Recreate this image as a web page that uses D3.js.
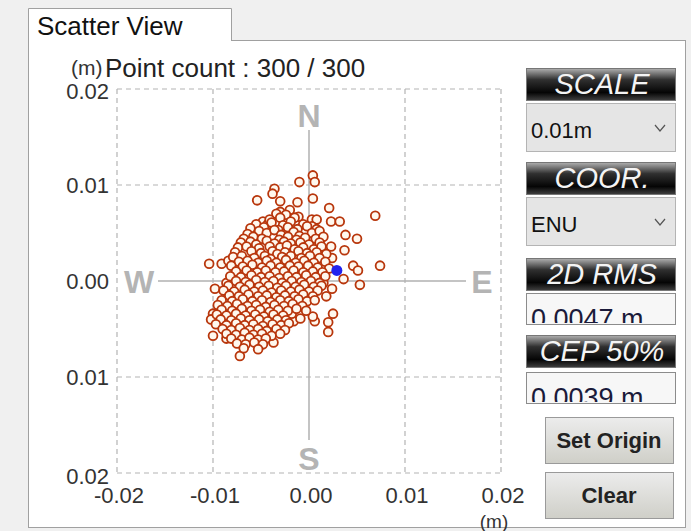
<!DOCTYPE html>
<meta charset="utf-8">
<script src="https://d3js.org/d3.v7.min.js"></script>
<style>
  body { margin: 0; background: #f0f0f0; }
  text { font-family: Arial, "Liberation Sans", sans-serif; }
</style>
<div id="my_dataviz"></div>
<script>
// tick values (metres) and the labels as they appear on screen
var xTicks = [-0.02, -0.01, 0, 0.01, 0.02];
var xTickLabels = ["-0.02", "-0.01", "0.00", "0.01", "0.02"];
var yTicks = [0.02, 0.01, 0, -0.01, -0.02];
var yTickLabels = ["0.02", "0.01", "0.00", "0.01", "0.02"];

// scatter points, east / north in millimetres
var outerPts = [
  [0.4,11.0],[0.6,10.3],[-1.0,10.3],[-3.6,9.6],[-3.8,9.1],[-5.4,8.4],[-3.0,8.3],[-1.2,8.2],
  [0.4,8.6],[-3.0,7.2],[-2.0,7.4],[2.1,7.6],[6.9,6.8],[-1.1,6.7],[2.3,6.2],[3.2,6.2],
  [-4.8,6.2],[-5.1,5.3],[-4.3,5.9],[-2.2,6.2],[0.3,6.4],[0.8,6.4],[3.8,4.8],[5.0,4.4],
  [3.7,3.2],[2.3,3.6],[-10.4,1.8],[-9.1,1.8],[-8.4,2.1],[7.4,1.6],[4.6,1.6],[5.1,1.1],
  [5.3,-0.4],[3.6,0.2],[2.4,2.4],[1.5,2.5],[-9.8,-0.8],[-8.6,-0.2],[-10.0,-3.4],[-10.2,-4.0],
  [-10.0,-5.7],[-8.6,-6.0],[-7.2,-7.8],[-4.4,-6.0],[-3.7,-6.4],[2.0,-5.3],[2.0,-4.3],[2.5,-3.4],
  [0.6,-4.2],[0.4,-3.7],[-1.6,-4.2],[-0.9,-3.9],[-1.8,-3.4],[2.4,-0.8],[1.5,-0.2],[1.8,-1.6]
];
var corePts = [
  [-3.4,7.0],[-2.4,6.9],
  [-4.1,6.4],[-3.0,6.6],[-1.5,6.6],
  [-5.5,5.9],[-3.9,6.1],[-2.7,5.8],[-1.9,6.2],[-0.6,5.9],[0.3,5.7],
  [-6.1,5.5],[-4.7,5.6],[-3.2,5.3],[-2.2,5.6],[-1.2,5.4],[-0.2,5.7],[0.8,5.4],
  [-6.4,4.9],[-5.2,5.2],[-4.4,5.0],[-3.6,5.3],[-2.9,4.8],[-1.6,5.1],[-1.0,4.7],[0.3,5.0],[1.1,5.2],
  [-6.8,4.4],[-5.8,4.6],[-4.9,4.4],[-3.1,4.3],[-2.2,4.6],[-1.3,4.3],[-0.4,4.5],[0.7,4.4],[1.5,4.6],
  [-7.1,4.0],[-6.1,4.1],[-5.5,3.8],[-4.4,4.2],[-3.6,3.9],[-2.6,4.1],[-1.9,3.9],[-0.9,4.0],[0.0,3.8],[1.1,4.0],
  [-7.4,3.5],[-6.5,3.6],[-5.2,3.4],[-4.1,3.6],[-3.0,3.5],[-2.3,3.7],[-1.5,3.3],[-0.6,3.5],[0.5,3.3],[1.3,3.6],
  [-7.7,3.0],[-6.0,3.1],[-5.0,2.9],[-3.8,3.1],[-3.3,2.8],[-2.5,3.0],[-1.1,3.1],[-0.2,2.9],[0.8,3.0],[1.8,2.8],
  [-7.9,2.5],[-7.0,2.6],[-5.7,2.4],[-4.6,2.6],[-4.0,2.3],[-2.8,2.5],[-1.9,2.6],[-0.8,2.4],[0.1,2.6],[1.1,2.4],
  [-7.3,2.0],[-6.4,2.1],[-5.3,1.9],[-4.4,2.1],[-3.4,1.9],[-2.4,2.2],[-1.4,1.9],[-0.5,2.1],[0.5,1.9],[1.7,2.0],
  [-8.1,1.6],[-6.9,1.5],[-5.9,1.7],[-4.9,1.4],[-4.0,1.6],[-3.0,1.4],[-2.0,1.6],[-1.1,1.5],[-0.1,1.6],[0.9,1.4],[2.1,1.3],
  [-7.6,1.0],[-6.5,1.1],[-5.4,0.9],[-4.5,1.1],[-3.5,0.9],[-2.6,1.0],[-1.6,1.1],[-0.6,0.9],[0.4,1.0],[1.4,0.9],
  [-8.2,0.5],[-7.1,0.4],[-6.0,0.6],[-5.0,0.4],[-4.1,0.5],[-3.1,0.3],[-2.2,0.5],[-1.3,0.4],[-0.3,0.6],[0.7,0.4],[1.7,0.5],
  [-7.6,0.0],[-6.6,-0.1],[-5.5,0.1],[-4.6,-0.1],[-3.7,0.0],[-2.8,-0.2],[-1.8,0.0],[-0.8,-0.1],[0.2,0.0],[1.1,-0.2],
  [-8.4,-0.5],[-7.2,-0.6],[-6.2,-0.4],[-5.2,-0.6],[-4.2,-0.5],[-3.3,-0.7],[-2.4,-0.5],[-1.4,-0.6],[-0.5,-0.4],[0.5,-0.6],[1.3,-0.5],
  [-8.9,-1.0],[-7.8,-1.1],[-6.7,-0.9],[-5.7,-1.1],[-4.8,-1.0],[-3.9,-1.2],[-2.9,-1.0],[-1.9,-1.1],[-1.0,-0.9],[0.0,-1.1],[0.9,-1.0],
  [-8.3,-1.5],[-7.3,-1.6],[-6.3,-1.4],[-5.3,-1.6],[-4.4,-1.5],[-3.4,-1.7],[-2.5,-1.5],[-1.5,-1.6],[-0.6,-1.4],[0.4,-1.6],
  [-9.1,-2.0],[-8.0,-2.1],[-6.9,-1.9],[-5.9,-2.1],[-4.9,-2.0],[-4.0,-2.2],[-3.0,-2.0],[-2.1,-2.1],[-1.1,-1.9],[-0.2,-2.1],[0.6,-2.0],
  [-9.5,-2.5],[-8.5,-2.6],[-7.5,-2.4],[-6.4,-2.6],[-5.5,-2.5],[-4.5,-2.7],[-3.6,-2.5],[-2.6,-2.6],[-1.7,-2.4],[-0.7,-2.6],
  [-9.1,-3.0],[-8.0,-3.1],[-7.0,-2.9],[-6.0,-3.1],[-5.1,-3.0],[-4.1,-3.2],[-3.2,-3.0],[-2.2,-3.1],[-1.3,-2.9],[-0.3,-3.1],
  [-9.6,-3.5],[-8.6,-3.6],[-7.6,-3.4],[-6.6,-3.6],[-5.6,-3.5],[-4.7,-3.7],[-3.7,-3.5],[-2.7,-3.6],
  [-9.2,-4.0],[-8.1,-4.1],[-7.1,-3.9],[-6.2,-4.1],[-5.2,-4.0],[-4.3,-4.2],[-3.3,-4.0],[-2.4,-4.1],
  [-9.7,-4.5],[-8.6,-4.6],[-7.6,-4.4],[-6.7,-4.6],[-5.8,-4.5],[-4.8,-4.7],[-3.8,-4.5],[-2.9,-4.6],[-2.1,-4.4],
  [-9.0,-5.0],[-8.1,-5.1],[-7.2,-4.9],[-6.2,-5.1],[-5.3,-5.0],[-4.4,-5.2],[-3.4,-5.0],[-2.5,-5.1],
  [-8.6,-5.5],[-7.6,-5.6],[-6.7,-5.4],[-5.8,-5.6],[-4.9,-5.5],[-3.9,-5.7],[-3.0,-5.5],
  [-8.1,-6.0],[-7.0,-6.1],[-6.2,-5.9],[-5.3,-6.1],[-4.5,-6.0],
  [-7.5,-6.5],[-6.6,-6.6],[-5.7,-6.4],[-4.8,-6.6],
  [-6.8,-7.0],[-5.3,-7.1]
];
// current position (blue dot)
var bluePt = [2.9, 1.1];

// right hand panel contents
var headers = ["SCALE", "COOR.", "2D RMS", "CEP 50%"];
var headerY = [68, 162, 258, 335];
var combos = [{label: "0.01m", y: 103}, {label: "ENU", y: 197}];
var values = [{label: "0.0047 m", y: 293}, {label: "0.0039 m", y: 372}];
var buttons = [{label: "Set Origin", y: 417}, {label: "Clear", y: 472}];

var width = 691, height = 531;

var svg = d3.select("#my_dataviz")
  .append("svg")
    .attr("width", width)
    .attr("height", height);

var defs = svg.append("defs");
var hg = defs.append("linearGradient").attr("id", "hdr").attr("x1", 0).attr("y1", 0).attr("x2", 0).attr("y2", 1);
hg.append("stop").attr("offset", "0%").attr("stop-color", "#b0b0b0");
hg.append("stop").attr("offset", "35%").attr("stop-color", "#303030");
hg.append("stop").attr("offset", "75%").attr("stop-color", "#050505");
hg.append("stop").attr("offset", "100%").attr("stop-color", "#404040");
var bg = defs.append("linearGradient").attr("id", "btn").attr("x1", 0).attr("y1", 0).attr("x2", 0).attr("y2", 1);
bg.append("stop").attr("offset", "0%").attr("stop-color", "#ececec");
bg.append("stop").attr("offset", "100%").attr("stop-color", "#cfcfc8");

// window background + tab panel
svg.append("rect").attr("width", width).attr("height", height).attr("fill", "#f0f0f0");
svg.append("rect")
  .attr("x", 28.5).attr("y", 40.5).attr("width", 657).attr("height", 487)
  .attr("fill", "#ffffff").attr("stroke", "#a0a0a0");
svg.append("path")
  .attr("d", "M28.5,41 L28.5,8.5 L231.5,8.5 L231.5,41")
  .attr("fill", "#ffffff").attr("stroke", "#a0a0a0");
svg.append("rect").attr("x", 29).attr("y", 38).attr("width", 202).attr("height", 4).attr("fill", "#ffffff");
svg.append("text").attr("x", 37).attr("y", 35).attr("font-size", 26).attr("fill", "#111").text("Scatter View");

// scales
var x = d3.scaleLinear().domain([-0.02, 0.02]).range([117, 501]);
var y = d3.scaleLinear().domain([-0.02, 0.02]).range([473, 89]);

// dashed grid
var grid = svg.append("g").attr("stroke", "#b4b4b4").attr("stroke-width", 1.2).attr("stroke-dasharray", "5,4");
grid.selectAll("line.v").data(xTicks.filter(function(d){ return d !== 0; }))
  .enter().append("line")
    .attr("x1", function(d){ return x(d); }).attr("x2", function(d){ return x(d); })
    .attr("y1", y(0.02)).attr("y2", y(-0.02));
grid.selectAll("line.h").data(yTicks.filter(function(d){ return d !== 0; }))
  .enter().append("line")
    .attr("y1", function(d){ return y(d); }).attr("y2", function(d){ return y(d); })
    .attr("x1", x(-0.02)).attr("x2", x(0.02));

// compass cross
svg.append("line").attr("x1", x(0)).attr("x2", x(0)).attr("y1", 130).attr("y2", 440)
  .attr("stroke", "#b0b0b0").attr("stroke-width", 1.5);
svg.append("line").attr("x1", 158).attr("x2", 466).attr("y1", y(0)).attr("y2", y(0))
  .attr("stroke", "#b0b0b0").attr("stroke-width", 1.5);
var compass = [
  {t: "N", x: x(0), y: 127}, {t: "S", x: x(0), y: 470},
  {t: "W", x: 139, y: y(0) + 12}, {t: "E", x: 482, y: y(0) + 12}
];
svg.selectAll("text.cmp").data(compass).enter().append("text")
  .attr("x", function(d){ return d.x; }).attr("y", function(d){ return d.y; })
  .attr("text-anchor", "middle").attr("font-size", 32).attr("font-weight", "bold")
  .attr("fill", "#b4b4b4").text(function(d){ return d.t; });

// tick labels
svg.selectAll("text.yt").data(yTicks).enter().append("text")
  .attr("x", 109).attr("y", function(d, i){ return y(d) + (i === 0 ? 10 : i === 4 ? 11 : 8); })
  .attr("text-anchor", "end").attr("font-size", 22).attr("fill", "#333")
  .text(function(d, i){ return yTickLabels[i]; });
svg.selectAll("text.xt").data(xTicks).enter().append("text")
  .attr("x", function(d){ return x(d) + 2; }).attr("y", 503)
  .attr("text-anchor", "middle").attr("font-size", 22).attr("fill", "#333")
  .text(function(d, i){ return xTickLabels[i]; });
svg.append("text").attr("x", 494).attr("y", 528).attr("text-anchor", "middle")
  .attr("font-size", 19).attr("fill", "#333").text("(m)");
svg.append("text").attr("x", 71).attr("y", 75).attr("font-size", 21).attr("fill", "#333").text("(m)");
svg.append("text").attr("x", 105).attr("y", 77).attr("font-size", 26).attr("fill", "#222")
  .text("Point count : 300 / 300");

// scatter points
var pts = outerPts.concat(corePts);
svg.append("g").selectAll("circle").data(pts).enter().append("circle")
  .attr("cx", function(d){ return x(d[0] / 1000); })
  .attr("cy", function(d){ return y(d[1] / 1000); })
  .attr("r", 4.4)
  .attr("fill", "#fff8ee").attr("stroke", "#b8360c").attr("stroke-width", 1.8);
svg.append("circle")
  .attr("cx", x(bluePt[0] / 1000)).attr("cy", y(bluePt[1] / 1000))
  .attr("r", 5.5).attr("fill", "#2222ee");

// right panel: black headers
var hdr = svg.selectAll("g.hdr").data(headers).enter().append("g")
  .attr("transform", function(d, i){ return "translate(526," + headerY[i] + ")"; });
hdr.append("rect").attr("x", 0.5).attr("y", 0.5).attr("width", 149).attr("height", 32)
  .attr("fill", "url(#hdr)").attr("stroke", "#777");
hdr.append("text").attr("x", 76).attr("y", 26).attr("text-anchor", "middle")
  .attr("font-size", 29).attr("font-style", "italic").attr("fill", "#f4f4f4")
  .text(function(d){ return d; });

// combo boxes
var cmb = svg.selectAll("g.cmb").data(combos).enter().append("g")
  .attr("transform", function(d){ return "translate(526," + d.y + ")"; });
cmb.append("rect").attr("x", 0.5).attr("y", 0.5).attr("width", 149).attr("height", 48)
  .attr("fill", "#e5e5e5").attr("stroke", "#b4b4b4");
cmb.append("text").attr("x", 5).attr("y", 35).attr("font-size", 22).attr("fill", "#111")
  .text(function(d){ return d.label; });
cmb.append("path").attr("d", "M129,22 L134,28 L139,22").attr("fill", "none")
  .attr("stroke", "#555").attr("stroke-width", 1.2);

// value boxes (text clipped at the bottom like the screenshot)
var vb = svg.selectAll("g.val").data(values).enter().append("g")
  .attr("transform", function(d){ return "translate(526," + d.y + ")"; });
vb.each(function(d, i){
  defs.append("clipPath").attr("id", "vclip" + i)
    .append("rect").attr("x", 1).attr("y", 1).attr("width", 148).attr("height", 29);
});
vb.append("rect").attr("x", 0.5).attr("y", 0.5).attr("width", 149).attr("height", 31)
  .attr("fill", "#f7f7f7").attr("stroke", "#8c8c8c");
vb.append("text").attr("x", 5).attr("y", 35).attr("font-size", 27).attr("fill", "#1a1a3a")
  .attr("clip-path", function(d, i){ return "url(#vclip" + i + ")"; })
  .text(function(d){ return d.label; });

// buttons
var btn = svg.selectAll("g.btn").data(buttons).enter().append("g")
  .attr("transform", function(d){ return "translate(545," + d.y + ")"; });
btn.append("rect").attr("x", 0.5).attr("y", 0.5).attr("width", 128).attr("height", 46)
  .attr("fill", "url(#btn)").attr("stroke", "#9a9a9a");
btn.append("text").attr("x", 64).attr("y", 31).attr("text-anchor", "middle")
  .attr("font-size", 22).attr("font-weight", "bold").attr("fill", "#222")
  .text(function(d){ return d.label; });
</script>
